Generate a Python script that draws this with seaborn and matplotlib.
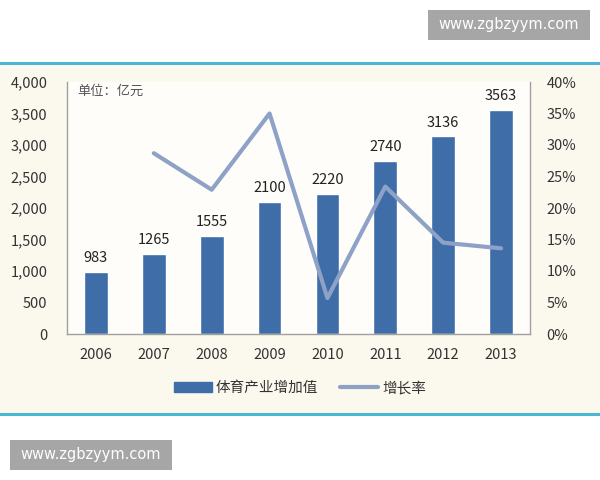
import matplotlib
matplotlib.use('Agg')
import matplotlib.pyplot as plt
import seaborn as sns
import pandas as pd
from matplotlib.patches import Rectangle
from matplotlib.lines import Line2D

# chart data
years = ['2006', '2007', '2008', '2009', '2010', '2011', '2012', '2013']
added_value = [983, 1265, 1555, 2100, 2220, 2740, 3136, 3563]
growth_rate = [None, 28.7, 22.9, 35.0, 5.7, 23.4, 14.5, 13.6]
left_ticks = [0, 500, 1000, 1500, 2000, 2500, 3000, 3500, 4000]
right_ticks = [0, 5, 10, 15, 20, 25, 30, 35, 40]

sns.set_style('white')
plt.rcParams['font.family'] = ['Noto Sans CJK SC', 'DejaVu Sans']

bar_color = '#3F6DA8'
line_color = '#8EA2C8'
text_color = '#333333'

df = pd.DataFrame({'year': years, 'value': added_value, 'growth': growth_rate})

fig = plt.figure(figsize=(6, 4.8), dpi=100)
fig.patch.set_facecolor('white')

# cream panel and blue rules
fig.add_artist(Rectangle((0, (480 - 414) / 480), 1, (414 - 64) / 480,
                         transform=fig.transFigure, facecolor='#FBF8EE',
                         edgecolor='none', zorder=0))
for yy in [63, 414]:
    fig.add_artist(Line2D([0, 1], [(480 - yy) / 480] * 2, transform=fig.transFigure,
                          color='#4DB6D3', linewidth=2.2, zorder=1))

ax = fig.add_axes([67 / 600, (480 - 334) / 480, (530 - 67) / 600, (334 - 82) / 480])
ax.set_facecolor('#FEFDF9')
sns.barplot(data=df, x='year', y='value', color=bar_color, width=0.41,
            saturation=1, ax=ax, zorder=2)
ax.set_ylim(0, 4000)
ax.set_xlim(-0.5, 7.5)
ax.set_yticks(left_ticks)
ax.set_yticklabels([f'{t:,}' for t in left_ticks], fontsize=10.5, color=text_color)
ax.set_xlabel('')
ax.set_ylabel('')
ax.tick_params(axis='x', labelsize=10.5, colors=text_color, length=0, pad=10)
ax.tick_params(axis='y', length=0, pad=14)
ax.spines['top'].set_visible(False)
for s in ['left', 'right', 'bottom']:
    ax.spines[s].set_color('#A0A0A0')
    ax.spines[s].set_linewidth(1.0)

for i, v in enumerate(added_value):
    ax.text(i, v + 110, str(v), ha='center', va='bottom', fontsize=10.5, color='#222222')

ax.text(0.022, 0.99, '单位：亿元', transform=ax.transAxes, ha='left', va='top',
        fontsize=9.5, color='#555555')

ax2 = ax.twinx()
sns.lineplot(data=df.dropna(), x='year', y='growth', color=line_color,
             linewidth=3, ax=ax2, sort=False)
ax2.set_ylim(0, 40)
ax2.set_xlim(-0.5, 7.5)
ax2.set_yticks(right_ticks)
ax2.set_yticklabels([f'{t}%' for t in right_ticks], fontsize=10.5, color=text_color)
ax2.set_ylabel('')
ax2.tick_params(axis='y', length=0, pad=12)
for s in ['top', 'left', 'bottom', 'right']:
    ax2.spines[s].set_visible(False)

handles = [Rectangle((0, 0), 1, 1, color=bar_color),
           Line2D([0], [0], color=line_color, linewidth=3)]
fig.legend(handles, ['体育产业增加值', '增长率'], loc='center',
           bbox_to_anchor=(300 / 600, (480 - 388) / 480), ncol=2, frameon=False,
           fontsize=10.5, handlelength=2.6, handletextpad=0.3, columnspacing=1.5,
           labelcolor=text_color)

# watermarks
for (x0, y0, x1, y1) in [(428, 10, 590, 40), (10, 440, 172, 470)]:
    fig.add_artist(Rectangle((x0 / 600, (480 - y1) / 480), (x1 - x0) / 600, (y1 - y0) / 480,
                             transform=fig.transFigure, facecolor='#A6A6A6',
                             edgecolor='none', zorder=3))
    fig.text((x0 + x1) / 2 / 600, (480 - (y0 + y1) / 2) / 480, 'www.zgbzyym.com',
             ha='center', va='center', color='white', fontsize=10.5,
             family=['DejaVu Sans'], zorder=4)

fig.savefig('out.png', dpi=100)
